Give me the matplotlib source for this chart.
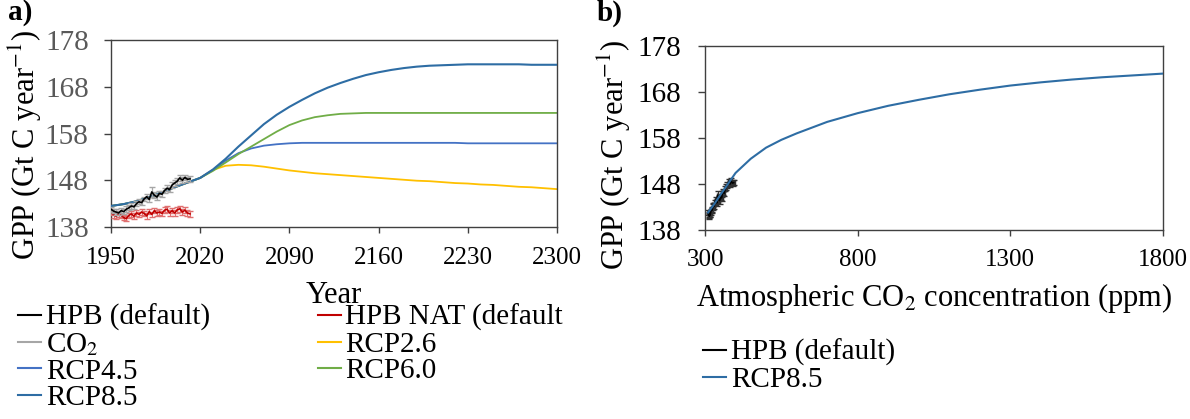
import matplotlib
matplotlib.use("Agg")
import matplotlib.pyplot as plt
from matplotlib.lines import Line2D

plt.rcParams['font.family'] = ['Liberation Serif', 'DejaVu Serif']
plt.rcParams['mathtext.fontset'] = 'stix'

# ---------------- data ----------------
obs_years = [1950, 1952, 1954, 1956, 1958, 1960, 1962, 1964, 1966, 1968, 1970,
             1972, 1974, 1976, 1978, 1980, 1982, 1984, 1986, 1988, 1990, 1992,
             1994, 1996, 1998, 2000, 2002, 2004, 2006, 2008, 2010, 2012]
hpb_default = [141.8, 141.4, 141.2, 141.0, 141.5, 141.3, 141.8, 142.1, 142.5, 142.3,
               143.0, 143.4, 143.2, 144.0, 144.5, 143.9, 145.5, 144.8, 144.4, 145.2,
               145.0, 145.8, 146.3, 146.0, 147.0, 147.4, 147.8, 148.5, 148.0, 148.6,
               148.2, 148.3]
hpb_err = [0.5, 0.5, 0.6, 0.5, 0.6, 0.5, 0.6, 0.5, 0.6, 0.5, 0.6, 0.5, 0.6, 0.5,
           0.6, 0.6, 1.0, 0.6, 0.7, 0.6, 0.6, 0.6, 0.6, 0.6, 0.6, 0.6, 0.6, 0.6,
           0.6, 0.6, 0.6, 0.6]
hpb_nat = [141.2, 140.6, 140.3, 140.8, 140.5, 140.0, 139.8, 140.5, 140.8, 140.3,
           141.0, 140.7, 141.2, 140.9, 140.4, 141.3, 140.7, 141.5, 141.0, 141.2,
           140.9, 141.6, 141.8, 141.0, 141.5, 141.0, 141.7, 141.9, 141.2, 141.6,
           141.0, 140.8]
nat_err = [0.6] * 32
co2_obs = [311.3, 312.4, 313.5, 314.5, 315.3, 316.9, 318.4, 319.6, 321.4, 323.0,
           325.7, 327.5, 330.2, 332.1, 335.4, 338.8, 341.1, 344.4, 347.6, 351.6,
           354.4, 356.4, 358.8, 362.6, 366.7, 369.7, 373.5, 377.7, 382.1, 385.8,
           390.1, 394.0]
co2_err = [3.0] * 32

rcp_years = list(range(1950, 2301, 10))
hist = [142.5, 142.9, 143.5, 144.4, 145.4, 146.5, 147.5, 148.5]
rcp26 = hist + [150.2, 151.1, 151.3, 151.2, 150.9, 150.5, 150.1, 149.8, 149.5, 149.3,
                149.1, 148.9, 148.7, 148.5, 148.3, 148.1, 147.9, 147.8, 147.6, 147.4,
                147.3, 147.1, 147.0, 146.8, 146.6, 146.5, 146.3, 146.1]
rcp45 = hist + [150.2, 152.2, 153.8, 154.8, 155.4, 155.7, 155.9, 156.0, 156.0, 156.0,
                156.0, 156.0, 156.0, 156.0, 156.0, 156.0, 156.0, 156.0, 156.0, 156.0,
                155.9, 155.9, 155.9, 155.9, 155.9, 155.9, 155.9, 155.9]
rcp60 = hist + [150.0, 151.8, 153.6, 155.2, 156.8, 158.4, 159.8, 160.8, 161.5, 161.9,
                162.2, 162.3, 162.4, 162.4, 162.4, 162.4, 162.4, 162.4, 162.4, 162.4,
                162.4, 162.4, 162.4, 162.4, 162.4, 162.4, 162.4, 162.4]
rcp85 = hist + [150.3, 152.6, 155.2, 157.6, 160.0, 162.0, 163.7, 165.2, 166.6, 167.8,
                168.8, 169.7, 170.5, 171.1, 171.6, 172.0, 172.3, 172.5, 172.6, 172.7,
                172.8, 172.8, 172.8, 172.8, 172.8, 172.7, 172.7, 172.7]

b_co2 = [310, 330, 350, 375, 400, 450, 500, 550, 600, 700, 800, 900, 1000, 1100,
         1200, 1300, 1400, 1500, 1600, 1700, 1800]
b_rcp85 = [141.8, 143.6, 145.6, 148.0, 150.4, 153.5, 155.9, 157.6, 159.0, 161.5,
           163.4, 165.0, 166.3, 167.5, 168.5, 169.4, 170.1, 170.7, 171.2, 171.6, 172.0]

yticks = [138, 148, 158, 168, 178]
xticks_a = [1950, 2020, 2090, 2160, 2230, 2300]
xticks_b = [300, 800, 1300, 1800]

C_BLACK = '#000000'
C_RED = '#C00000'
C_GRAY = '#A6A6A6'
C_26 = '#FFC000'
C_45 = '#4472C4'
C_60 = '#70AD47'
C_85 = '#2E6DA4'

ylabel = 'GPP (Gt C year$^{-1}$)'

fig = plt.figure(figsize=(11.9, 4.19), dpi=100)
W, H = 1190, 419

def axes_px(l, r, t, b):
    return fig.add_axes([l / W, 1 - b / H, (r - l) / W, (b - t) / H])

ax1 = axes_px(111, 557, 40, 227)
ax2 = axes_px(705, 1163, 46, 230)

LEG_FS = 21

# ---------- panel a ----------
ax1.plot(rcp_years, rcp26, color=C_26, lw=1.3, zorder=2)
ax1.plot(rcp_years, rcp45, color=C_45, lw=1.3, zorder=2)
ax1.plot(rcp_years, rcp60, color=C_60, lw=1.3, zorder=2)
ax1.plot(rcp_years, rcp85, color=C_85, lw=1.5, zorder=3)
ax1.errorbar(obs_years, hpb_nat, yerr=nat_err, color=C_RED, ecolor='#E07070',
             lw=1.2, elinewidth=0.8, capsize=2, zorder=4)
ax1.errorbar(obs_years, hpb_default, yerr=hpb_err, color=C_BLACK, ecolor=C_GRAY,
             lw=1.2, elinewidth=0.9, capsize=2, zorder=5)

ax1.set_xlim(1950, 2300)
ax1.set_ylim(138, 178)
ax1.set_xticks(xticks_a)
ax1.set_yticks(yticks)
ax1.tick_params(axis='x', labelsize=18, direction='out', length=4.5, width=1,
                color='#404040', labelcolor='black', pad=10)
ax1.tick_params(axis='y', labelsize=21, direction='out', length=5, width=1,
                color='#404040', labelcolor='#595959', pad=11)
for s in ax1.spines.values():
    s.set_color('#404040')
    s.set_linewidth(1.0)
ax1.set_ylabel(ylabel, fontsize=22)
ax1.yaxis.set_label_coords(-0.15, 0.44)
ax1.set_xlabel('Year', fontsize=22)
ax1.xaxis.set_label_coords(0.5, -0.365)
ax1.xaxis.label.set_va('center')

handles_a = [
    Line2D([], [], color=C_BLACK, lw=1.5),
    Line2D([], [], color=C_GRAY, lw=1.5),
    Line2D([], [], color=C_45, lw=1.5),
    Line2D([], [], color=C_85, lw=1.5),
    Line2D([], [], color=C_RED, lw=1.5),
    Line2D([], [], color=C_26, lw=1.5),
    Line2D([], [], color=C_60, lw=1.5),
]
labels_a = ['HPB (default)', 'CO$_2$', 'RCP4.5', 'RCP8.5',
            'HPB NAT (default', 'RCP2.6', 'RCP6.0']
fig.legend(handles_a, labels_a, loc='upper left', bbox_to_anchor=(18 / W, 1 - 304 / H),
           ncol=2, frameon=False, fontsize=LEG_FS, handlelength=0.8, handletextpad=0.15,
           labelspacing=0.0, columnspacing=3.7, borderaxespad=0, borderpad=0)

# ---------- panel b ----------
ax2.plot(b_co2, b_rcp85, color=C_85, lw=1.5, zorder=3)
ax2.errorbar(co2_obs, hpb_default, yerr=hpb_err, xerr=co2_err, color=C_BLACK,
             ecolor='#303030', lw=1.2, elinewidth=0.9, capsize=2, zorder=2)
ax2.set_xlim(300, 1800)
ax2.set_ylim(138, 178)
ax2.set_xticks(xticks_b)
ax2.set_yticks(yticks)
ax2.tick_params(axis='x', labelsize=18, direction='out', length=4.5, width=1,
                color='#404040', labelcolor='black', pad=9)
ax2.tick_params(axis='y', labelsize=21, direction='out', length=5, width=1,
                color='#404040', labelcolor='black', pad=12)
for s in ax2.spines.values():
    s.set_color('#404040')
    s.set_linewidth(1.0)
ax2.set_ylabel(ylabel, fontsize=22)
ax2.yaxis.set_label_coords(-0.158, 0.41)
ax2.set_xlabel('Atmospheric CO$_2$ concentration (ppm)', fontsize=22)
ax2.xaxis.set_label_coords(0.5, -0.37)
ax2.xaxis.label.set_va('center')

handles_b = [Line2D([], [], color=C_BLACK, lw=1.5), Line2D([], [], color=C_85, lw=1.5)]
fig.legend(handles_b, ['HPB (default)', 'RCP8.5'], loc='upper left',
           bbox_to_anchor=(703 / W, 1 - 339 / H), frameon=False, fontsize=LEG_FS,
           handlelength=0.8, handletextpad=0.15, labelspacing=0.0,
           borderaxespad=0, borderpad=0)

fig.text(8 / W, 1 - 13 / H, 'a)', fontsize=21, fontweight='bold', va='center', ha='left')
fig.text(597 / W, 1 - 13 / H, 'b)', fontsize=21, fontweight='bold', va='center', ha='left')

fig.savefig('out.png', dpi=100)
